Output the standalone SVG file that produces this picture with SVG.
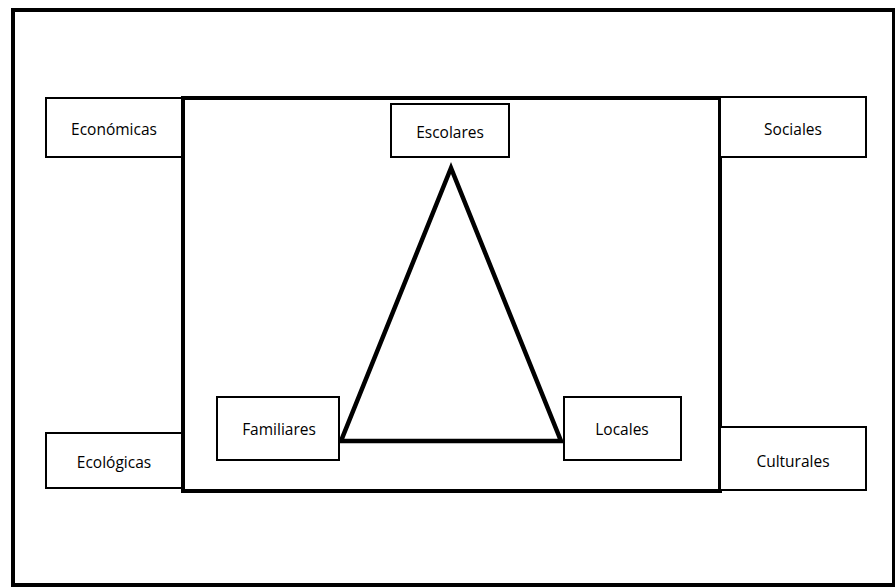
<svg xmlns="http://www.w3.org/2000/svg" width="895" height="587" viewBox="0 0 895 587">
<style>
.frame{fill:#fff;stroke:#000;stroke-width:4}
.box{fill:#fff;stroke:#000;stroke-width:2}
.lbl{font-family:"Open Sans","Liberation Sans",sans-serif;font-size:15.5px;fill:#000;text-anchor:middle;dominant-baseline:central}
</style>
<rect x="0" y="0" width="895" height="587" fill="#fff"/>
<g id="outer"><rect class="frame" x="13" y="10" width="881" height="575"/></g>
<g id="inner"><rect class="frame" x="183" y="98" width="537" height="393"/></g>
<g id="connectors">
<polygon points="451,168 341,441 561,441" fill="none" stroke="#000" stroke-width="4.5" stroke-linejoin="miter"/>
</g>
<g id="economicas"><rect class="box" x="46" y="98" width="136" height="59"/><text class="lbl" x="114" y="129">Económicas</text></g>
<g id="ecologicas"><rect class="box" x="46" y="433" width="136" height="55"/><text class="lbl" x="114" y="462">Ecológicas</text></g>
<g id="sociales"><rect class="box" x="720" y="97" width="146" height="60"/><text class="lbl" x="793" y="129">Sociales</text></g>
<g id="culturales"><rect class="box" x="720" y="427" width="146" height="63"/><text class="lbl" x="793" y="461">Culturales</text></g>
<g id="escolares"><rect class="box" x="391" y="104" width="118" height="53"/><text class="lbl" x="450" y="132">Escolares</text></g>
<g id="familiares"><rect class="box" x="217" y="397" width="122" height="63"/><text class="lbl" x="279" y="429">Familiares</text></g>
<g id="locales"><rect class="box" x="564" y="397" width="117" height="63"/><text class="lbl" x="622" y="429">Locales</text></g>
</svg>
